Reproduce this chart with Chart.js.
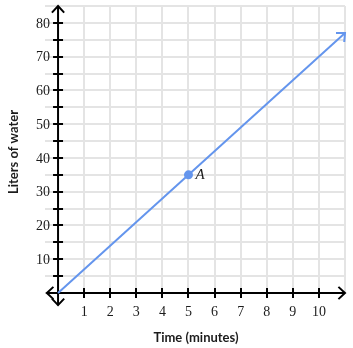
<!DOCTYPE html>
<html><head><meta charset="utf-8">
<script src="https://cdn.jsdelivr.net/npm/chart.js@4"></script>
<style>html,body{margin:0;padding:0;background:#fff}canvas{display:block}</style>
</head><body>
<canvas id="c" width="353" height="348"></canvas>
<script>
// data
const lineX = [0, 11];
const lineY = [0, 77];
const pointA = {x: 5, y: 35, label: 'A'};
const xTickValues = [1,2,3,4,5,6,7,8,9,10];
const yTickValues = [5,10,15,20,25,30,35,40,45,50,55,60,65,70,75,80];
const yLabelValues = [10,20,30,40,50,60,70,80];
const xGridValues = [0,1,2,3,4,5,6,7,8,9,10,11];
const yGridValues = [0,5,10,15,20,25,30,35,40,45,50,55,60,65,70,75,80,85];
const xTitle = 'Time (minutes)';
const yTitle = 'Liters of water';

const BLUE = '#6495ED';
const TXT = '#1c1c1c';

function chevron(ctx, x, y, ang, len, spread) {
  ctx.beginPath();
  ctx.moveTo(x - len*Math.cos(ang - spread), y - len*Math.sin(ang - spread));
  ctx.lineTo(x, y);
  ctx.lineTo(x - len*Math.cos(ang + spread), y - len*Math.sin(ang + spread));
  ctx.stroke();
}

const axesPlugin = {
  id: 'axesPlugin',
  beforeDatasetsDraw(chart) {
    const ctx = chart.ctx, xs = chart.scales.x, ys = chart.scales.y;
    const x0 = xs.getPixelForValue(0), y0 = ys.getPixelForValue(0);
    ctx.save();
    ctx.strokeStyle = '#000';
    ctx.lineWidth = 2;
    ctx.lineCap = 'butt';
    const xl = xs.getPixelForValue(-0.43), xr = xs.getPixelForValue(11);
    const yb = ys.getPixelForValue(-3.6), yt = ys.getPixelForValue(85);
    ctx.beginPath(); ctx.moveTo(xl, y0); ctx.lineTo(xr, y0); ctx.stroke();
    ctx.beginPath(); ctx.moveTo(x0, yb); ctx.lineTo(x0, yt); ctx.stroke();
    ctx.lineJoin = 'miter';
    chevron(ctx, xr, y0, 0, 9, 0.75);
    chevron(ctx, xl, y0, Math.PI, 9, 0.75);
    chevron(ctx, x0, yt, -Math.PI/2, 9, 0.75);
    chevron(ctx, x0, yb, Math.PI/2, 9, 0.75);
    ctx.beginPath();
    xTickValues.forEach(v => { const px = Math.round(xs.getPixelForValue(v)); ctx.moveTo(px, y0-5); ctx.lineTo(px, y0+5); });
    yTickValues.forEach(v => { const py = Math.round(ys.getPixelForValue(v)); ctx.moveTo(x0-5, py); ctx.lineTo(x0+5, py); });
    ctx.stroke();
    ctx.fillStyle = TXT;
    ctx.font = '14px "Liberation Serif", serif';
    ctx.textAlign = 'center'; ctx.textBaseline = 'middle';
    xTickValues.forEach(v => ctx.fillText(String(v), xs.getPixelForValue(v), y0 + 19));
    ctx.textAlign = 'right';
    yLabelValues.forEach(v => ctx.fillText(String(v), x0 - 8, ys.getPixelForValue(v) + 1));
    ctx.font = 'bold 13px Lato, sans-serif';
    ctx.textAlign = 'center'; ctx.textBaseline = 'middle';
    ctx.fillText(xTitle, 196, 338);
    ctx.save();
    ctx.translate(14, 152); ctx.rotate(-Math.PI/2);
    ctx.fillText(yTitle, 0, 0);
    ctx.restore();
    ctx.restore();
  },
  afterDatasetsDraw(chart) {
    const ctx = chart.ctx, xs = chart.scales.x, ys = chart.scales.y;
    const n = lineX.length;
    const xa = xs.getPixelForValue(lineX[n-2]), ya = ys.getPixelForValue(lineY[n-2]);
    const xb = xs.getPixelForValue(lineX[n-1]), yb = ys.getPixelForValue(lineY[n-1]);
    const ang = Math.atan2(yb - ya, xb - xa);
    ctx.save();
    ctx.strokeStyle = BLUE; ctx.lineWidth = 2;
    chevron(ctx, xb, yb, ang, 9, 0.75);
    ctx.fillStyle = TXT;
    ctx.font = 'italic 15px "Liberation Serif", serif';
    ctx.textAlign = 'left'; ctx.textBaseline = 'middle';
    ctx.fillText(pointA.label, xs.getPixelForValue(pointA.x) + 7, ys.getPixelForValue(pointA.y));
    ctx.restore();
  }
};

new Chart(document.getElementById('c'), {
  type: 'scatter',
  data: {
    datasets: [
      { data: lineX.map((x, i) => ({x, y: lineY[i]})), showLine: true, borderColor: BLUE, borderWidth: 2, pointRadius: 0, clip: 10 },
      { data: [{x: pointA.x, y: pointA.y}], backgroundColor: BLUE, borderColor: BLUE, pointRadius: 4.5, borderWidth: 0 }
    ]
  },
  options: {
    responsive: false,
    animation: false,
    events: [],
    layout: { padding: { left: 45, right: 8, top: 6, bottom: 55 } },
    plugins: { legend: { display: false }, tooltip: { enabled: false } },
    scales: {
      x: {
        type: 'linear', min: -0.5, max: 11,
        afterBuildTicks: s => { s.ticks = xGridValues.map(v => ({value: v})); },
        ticks: { display: false },
        grid: { color: '#e4e4e4', lineWidth: 2, drawTicks: false },
        border: { display: false }
      },
      y: {
        type: 'linear', min: 0, max: 85,
        afterBuildTicks: s => { s.ticks = yGridValues.map(v => ({value: v})); },
        ticks: { display: false },
        grid: { color: '#e4e4e4', lineWidth: 2, drawTicks: false },
        border: { display: false }
      }
    }
  },
  plugins: [axesPlugin]
});
</script>
</body></html>
